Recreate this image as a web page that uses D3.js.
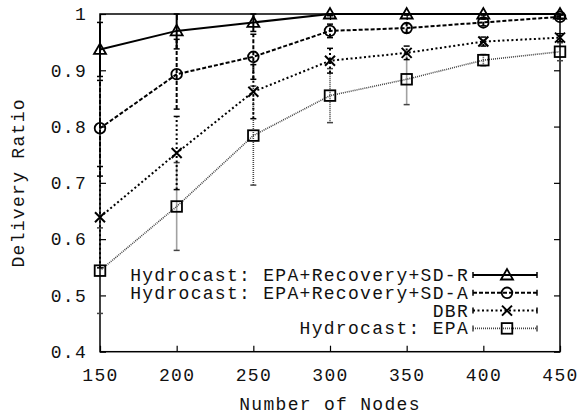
<!DOCTYPE html>
<meta charset="utf-8">
<script src="https://d3js.org/d3.v7.min.js"></script>
<head>
<style>
  body { margin: 0; background: #fff; }
  text { font-family: "Liberation Mono", "Courier New", monospace; fill: #111; }
</style>
</head>
<body>
<div id="my_dataviz"></div>
<script>
// data
var nodes = [150, 200, 250, 300, 350, 400, 450];
var xTicks = [150, 200, 250, 300, 350, 400, 450];
var yTicks = [0.4, 0.5, 0.6, 0.7, 0.8, 0.9, 1];

var sdrMean = [0.937, 0.970, 0.985, 1.000, 1.000, 1.000, 1.000];
var sdrErr  = [0.048, 0.032, 0.016, 0.003, 0.002, 0.002, 0.002];
var sdaMean = [0.797, 0.893, 0.924, 0.970, 0.975, 0.985, 0.995];
var sdaErr  = [0.085, 0.062, 0.040, 0.012, 0.008, 0.006, 0.004];
var dbrMean = [0.639, 0.753, 0.862, 0.917, 0.931, 0.951, 0.958];
var dbrErr  = [0.090, 0.065, 0.048, 0.022, 0.012, 0.008, 0.007];
var epaMean = [0.544, 0.658, 0.784, 0.855, 0.884, 0.918, 0.933];
var epaErr  = [0.076, 0.078, 0.088, 0.048, 0.045, 0.010, 0.016];

var seriesNames = ["Hydrocast: EPA+Recovery+SD-R", "Hydrocast: EPA+Recovery+SD-A", "DBR", "Hydrocast: EPA"];

var width = 585, height = 418;
var margin = {top: 14, right: 25, bottom: 66.3, left: 100};
var fontSize = "18px", letterSp = "1.3px";

var svg = d3.select("#my_dataviz")
  .append("svg")
    .attr("width", width)
    .attr("height", height);

var x = d3.scaleLinear().domain([150, 450]).range([margin.left, width - margin.right]);
var y = d3.scaleLinear().domain([0.4, 1]).range([height - margin.bottom, margin.top]);

var series = [
  {name: seriesNames[0], mean: sdrMean, err: sdrErr, marker: "tri",    stroke: "#000", w: 2,   dash: null},
  {name: seriesNames[1], mean: sdaMean, err: sdaErr, marker: "circle", stroke: "#000", w: 2,   dash: "4,2"},
  {name: seriesNames[2], mean: dbrMean, err: dbrErr, marker: "cross",  stroke: "#000", w: 2,   dash: "2,2.5"},
  {name: seriesNames[3], mean: epaMean, err: epaErr, marker: "square", stroke: "#444", w: 1.6, dash: "1,1"}
];

// axes: ticks inward on all four sides
var tickLen = 6;
svg.append("g")
  .attr("transform", "translate(0," + y(0.4) + ")")
  .call(d3.axisBottom(x).tickValues(xTicks).tickSize(-tickLen).tickPadding(17))
  .call(function(g) { g.select(".domain").remove(); });
svg.append("g")
  .attr("transform", "translate(0," + y(1) + ")")
  .call(d3.axisTop(x).tickValues(xTicks).tickSize(-tickLen).tickFormat(""))
  .call(function(g) { g.select(".domain").remove(); });
svg.append("g")
  .attr("transform", "translate(" + x(150) + ",0)")
  .call(d3.axisLeft(y).tickValues(yTicks).tickSize(-tickLen).tickPadding(13)
    .tickFormat(function(d) { return d === 1 ? "1" : d3.format(".1f")(d); }))
  .call(function(g) { g.select(".domain").remove(); });
svg.append("g")
  .attr("transform", "translate(" + x(450) + ",0)")
  .call(d3.axisRight(y).tickValues(yTicks).tickSize(-tickLen).tickFormat(""))
  .call(function(g) { g.select(".domain").remove(); });

svg.selectAll(".tick line").attr("stroke", "#000").attr("stroke-width", 1.2);
svg.selectAll(".tick text")
  .style("font-family", "'Liberation Mono', monospace")
  .style("font-size", fontSize)
  .style("letter-spacing", letterSp)
  .attr("fill", "#111");

// frame
svg.append("rect")
  .attr("x", x(150)).attr("y", y(1))
  .attr("width", x(450) - x(150)).attr("height", y(0.4) - y(1))
  .attr("fill", "none").attr("stroke", "#000").attr("stroke-width", 1.5);

// axis titles
svg.append("text")
  .attr("x", (x(150) + x(450)) / 2)
  .attr("y", 410)
  .attr("text-anchor", "middle")
  .style("font-size", fontSize)
  .style("letter-spacing", letterSp)
  .text("Number of Nodes");
svg.append("text")
  .attr("transform", "translate(24," + ((y(0.4) + y(1)) / 2) + ") rotate(-90)")
  .attr("text-anchor", "middle")
  .style("font-size", fontSize)
  .style("letter-spacing", letterSp)
  .text("Delivery Ratio");

function drawMarker(g, type, cx, cy) {
  if (type === "tri") {
    g.append("path")
      .attr("d", "M" + (cx - 6) + "," + (cy + 4.5) + "L" + cx + "," + (cy - 6) + "L" + (cx + 6) + "," + (cy + 4.5) + "Z")
      .attr("fill", "none").attr("stroke", "#000").attr("stroke-width", 1.8);
  } else if (type === "circle") {
    g.append("circle").attr("cx", cx).attr("cy", cy).attr("r", 5.3)
      .attr("fill", "none").attr("stroke", "#000").attr("stroke-width", 1.8);
  } else if (type === "cross") {
    g.append("path")
      .attr("d", "M" + (cx - 5) + "," + (cy - 5) + "L" + (cx + 5) + "," + (cy + 5) +
                 "M" + (cx - 5) + "," + (cy + 5) + "L" + (cx + 5) + "," + (cy - 5))
      .attr("fill", "none").attr("stroke", "#000").attr("stroke-width", 2);
  } else {
    g.append("rect").attr("x", cx - 5.3).attr("y", cy - 5.3).attr("width", 10.6).attr("height", 10.6)
      .attr("fill", "none").attr("stroke", "#000").attr("stroke-width", 1.8);
  }
}

var capW = 3;
var plot = svg.append("g");

// draw back to front: EPA first, SD-R last
series.slice().reverse().forEach(function(s) {
  var g = plot.append("g");
  // error bars
  nodes.forEach(function(n, i) {
    var lo = Math.max(0.4, s.mean[i] - s.err[i]);
    var hi = Math.min(1, s.mean[i] + s.err[i]);
    g.append("line")
      .attr("x1", x(n)).attr("x2", x(n))
      .attr("y1", y(lo)).attr("y2", y(hi))
      .attr("stroke", s.stroke).attr("stroke-width", s.w)
      .attr("stroke-dasharray", s.dash);
    [lo, hi].forEach(function(v) {
      g.append("line")
        .attr("x1", x(n) - capW).attr("x2", x(n) + capW)
        .attr("y1", y(v)).attr("y2", y(v))
        .attr("stroke", s.stroke).attr("stroke-width", 1.5);
    });
  });
  // line
  g.append("path")
    .datum(nodes.map(function(n, i) { return [n, s.mean[i]]; }))
    .attr("fill", "none")
    .attr("stroke", s.stroke)
    .attr("stroke-width", s.w)
    .attr("stroke-dasharray", s.dash)
    .attr("d", d3.line().x(function(d) { return x(d[0]); }).y(function(d) { return y(d[1]); }));
  nodes.forEach(function(n, i) {
    drawMarker(g, s.marker, x(n), y(s.mean[i]));
  });
});

// legend
var legend = svg.append("g");
series.forEach(function(s, i) {
  var ly = 275 + i * 17.8;
  legend.append("text")
    .attr("x", 469)
    .attr("y", ly + 6)
    .attr("text-anchor", "end")
    .style("font-size", fontSize)
    .style("letter-spacing", letterSp)
    .text(s.name);
  legend.append("line")
    .attr("x1", 473).attr("x2", 537).attr("y1", ly).attr("y2", ly)
    .attr("stroke", s.stroke).attr("stroke-width", s.w)
    .attr("stroke-dasharray", s.dash);
  [473, 537].forEach(function(ex) {
    legend.append("line")
      .attr("x1", ex).attr("x2", ex).attr("y1", ly - 3).attr("y2", ly + 3)
      .attr("stroke", s.stroke).attr("stroke-width", 1.5);
  });
  drawMarker(legend, s.marker, 507, ly);
});
</script>
</body>
